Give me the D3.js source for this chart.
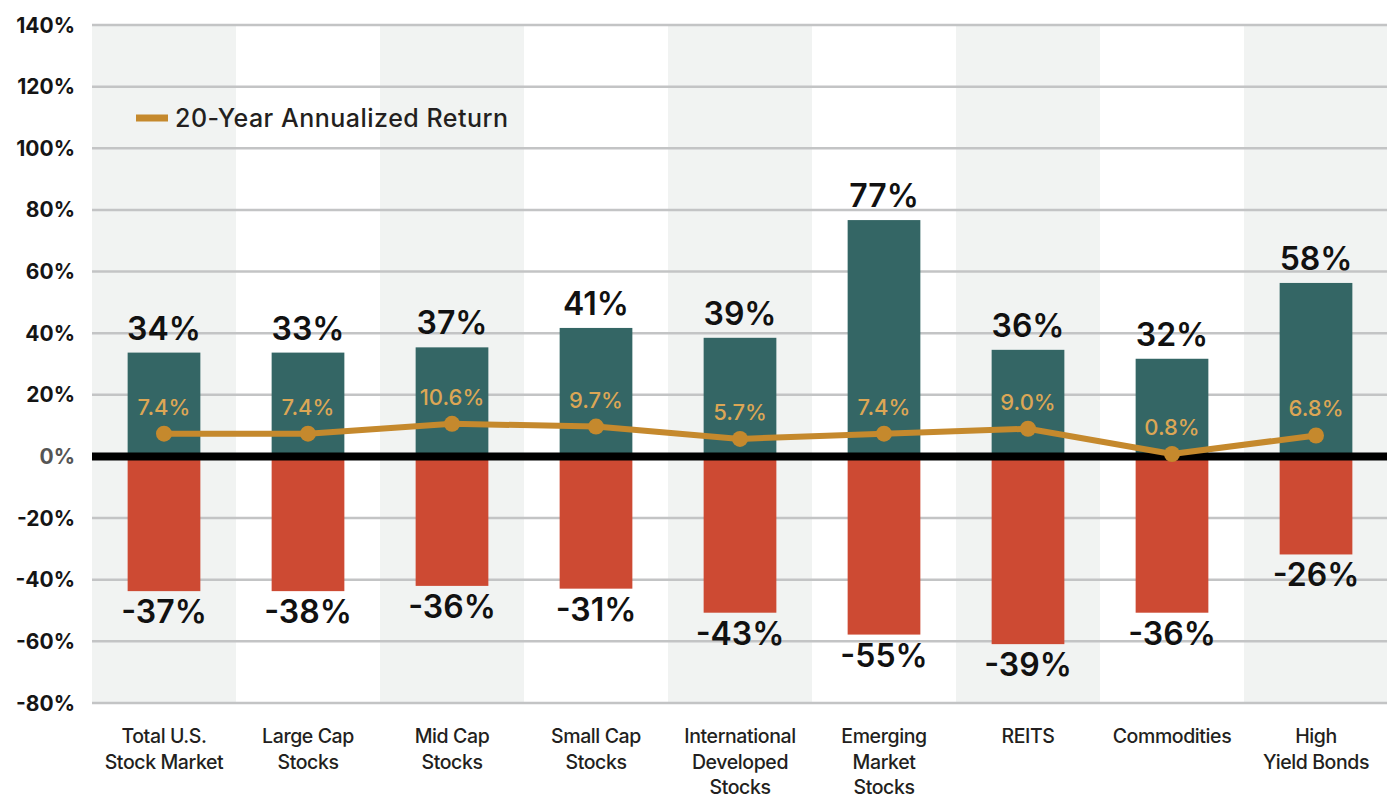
<!DOCTYPE html>
<html>
<head>
<meta charset="utf-8">
<script src="https://cdn.jsdelivr.net/npm/d3@7"></script>
<style>
  html, body { margin: 0; padding: 0; background: #ffffff; }
  svg { display: block; font-family: Inter, Lato, "Open Sans", sans-serif; }
</style>
</head>
<body>
<svg id="chart" width="1387" height="795"></svg>
<script>
// ---- data ----
const categories = [
  ["Total U.S.", "Stock Market"],
  ["Large Cap", "Stocks"],
  ["Mid Cap", "Stocks"],
  ["Small Cap", "Stocks"],
  ["International", "Developed", "Stocks"],
  ["Emerging", "Market", "Stocks"],
  ["REITS"],
  ["Commodities"],
  ["High", "Yield Bonds"]
];
// bar heights as drawn in the picture (percent)
const bestBars  = [33.7, 33.7, 35.4, 41.7, 38.5, 76.7, 34.6, 31.7, 56.3];
const worstBars = [-43.7, -43.7, -42.0, -42.9, -50.7, -57.8, -60.9, -50.7, -31.8];
// labels printed on the picture
const bestLabels  = ["34%", "33%", "37%", "41%", "39%", "77%", "36%", "32%", "58%"];
const worstLabels = ["-37%", "-38%", "-36%", "-31%", "-43%", "-55%", "-39%", "-36%", "-26%"];
const annualized = [7.4, 7.4, 10.6, 9.7, 5.7, 7.4, 9.0, 0.8, 6.8];
const annualizedLabels = ["7.4%", "7.4%", "10.6%", "9.7%", "5.7%", "7.4%", "9.0%", "0.8%", "6.8%"];
const yTicks = [-80, -60, -40, -20, 0, 20, 40, 60, 80, 100, 120, 140];
const legendLabel = "20-Year Annualized Return";

// ---- layout ----
const svg = d3.select("#chart");
const plotL = 92, plotR = 1388, plotT = 25, plotB = 703;
const idx = categories.map((d, i) => i);
const x = d3.scaleBand().domain(idx).range([plotL, plotR]).padding(0);
const y = d3.scaleLinear().domain([-80, 140]).range([plotB, plotT]);
const bw = x.bandwidth();
const barW = bw * 0.505;
const cx = i => x(i) + bw / 2;

const teal = "#346665", red = "#cd4a33", gold = "#c5892d", goldText = "#dca655";

// alternating background bands
svg.append("g").selectAll("rect").data(idx.filter(i => i % 2 === 0)).join("rect")
  .attr("x", i => x(i)).attr("width", bw)
  .attr("y", y(140)).attr("height", y(-80) - y(140))
  .attr("fill", "#f1f3f2");

// gridlines
svg.append("g").selectAll("line").data(yTicks.filter(t => t !== 0)).join("line")
  .attr("x1", plotL).attr("x2", plotR)
  .attr("y1", d => y(d)).attr("y2", d => y(d))
  .attr("stroke", "#c3c4c5").attr("stroke-width", 2.5);

// y axis labels
svg.append("g").selectAll("text").data(yTicks).join("text")
  .attr("x", 75).attr("y", d => y(d)).attr("dy", "0.36em")
  .attr("text-anchor", "end")
  .attr("font-size", 21).attr("font-weight", 700)
  .attr("fill", d => d === 0 ? "#555555" : "#151515")
  .text(d => (d < 0 ? "-" + Math.abs(d) : d) + "%");

// bars
svg.append("g").selectAll("rect").data(idx).join("rect")
  .attr("x", i => cx(i) - barW / 2).attr("width", barW)
  .attr("y", i => y(bestBars[i])).attr("height", i => y(0) - y(bestBars[i]))
  .attr("fill", teal);
svg.append("g").selectAll("rect").data(idx).join("rect")
  .attr("x", i => cx(i) - barW / 2).attr("width", barW)
  .attr("y", y(0)).attr("height", i => y(worstBars[i]) - y(0))
  .attr("fill", red);

// zero line
svg.append("line")
  .attr("x1", plotL).attr("x2", plotR)
  .attr("y1", y(0)).attr("y2", y(0))
  .attr("stroke", "#000").attr("stroke-width", 8);

// value labels
svg.append("g").selectAll("text").data(idx).join("text")
  .attr("x", cx).attr("y", i => y(bestBars[i]) - 13)
  .attr("text-anchor", "middle").attr("font-size", 32).attr("font-weight", 600)
  .attr("fill", "#111").text(i => bestLabels[i]);
svg.append("g").selectAll("text").data(idx).join("text")
  .attr("x", cx).attr("y", i => y(worstBars[i]) + 32)
  .attr("text-anchor", "middle").attr("font-size", 32).attr("font-weight", 600)
  .attr("fill", "#111").text(i => worstLabels[i]);

// annualized line
const line = d3.line().x(i => cx(i)).y(i => y(annualized[i]));
svg.append("path").datum(idx).attr("d", line)
  .attr("fill", "none").attr("stroke", gold).attr("stroke-width", 6)
  .attr("stroke-linejoin", "round");
svg.append("g").selectAll("circle").data(idx).join("circle")
  .attr("cx", cx).attr("cy", i => y(annualized[i])).attr("r", 8)
  .attr("fill", gold);
svg.append("g").selectAll("text").data(idx).join("text")
  .attr("x", cx).attr("y", i => y(annualized[i]) - 19)
  .attr("text-anchor", "middle").attr("font-size", 22).attr("font-weight", 500)
  .attr("fill", goldText).text(i => annualizedLabels[i]);

// x labels
const xl = svg.append("g").selectAll("text").data(idx).join("text")
  .attr("x", cx).attr("y", 743)
  .attr("text-anchor", "middle").attr("font-size", 19.5).attr("font-weight", 500)
  .attr("fill", "#231f20");
xl.selectAll("tspan").data(i => categories[i].map(t => ({t, i}))).join("tspan")
  .attr("x", d => cx(d.i)).attr("dy", (d, k) => k === 0 ? 0 : 25.5)
  .attr("letter-spacing", -0.4)
  .text(d => d.t);

// legend
svg.append("line").attr("x1", 136).attr("x2", 168).attr("y1", 118).attr("y2", 118)
  .attr("stroke", gold).attr("stroke-width", 7);
svg.append("text").attr("x", 175).attr("y", 127)
  .attr("font-size", 25).attr("font-weight", 500).attr("fill", "#231f20")
  .attr("letter-spacing", 0.5)
  .text(legendLabel);
</script>
</body>
</html>
